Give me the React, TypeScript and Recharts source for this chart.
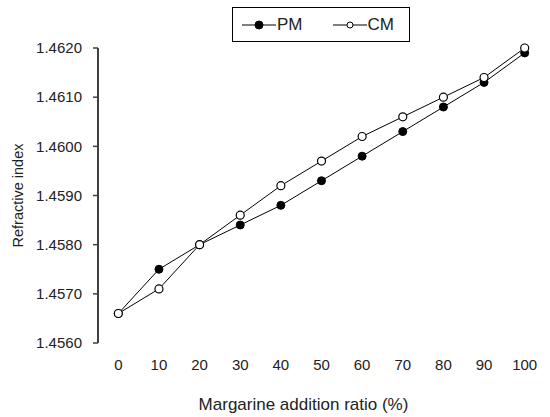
import React from 'react';
import { LineChart, Line, XAxis, YAxis, Legend, Label } from 'recharts';

const ratios = [0, 10, 20, 30, 40, 50, 60, 70, 80, 90, 100];
const pmValues = [1.4566, 1.4575, 1.458, 1.4584, 1.4588, 1.4593, 1.4598, 1.4603, 1.4608, 1.4613, 1.4619];
const cmValues = [1.4566, 1.4571, 1.458, 1.4586, 1.4592, 1.4597, 1.4602, 1.4606, 1.461, 1.4614, 1.462];
const yTicks = [1.456, 1.457, 1.458, 1.459, 1.46, 1.461, 1.462];
const seriesNames = ['PM', 'CM'];
const xTitle = 'Margarine addition ratio (%)';
const yTitle = 'Refractive index';

const FONT = 'Arial, "Liberation Sans", sans-serif';
const AXIS = '#404040';
const TEXT = '#222';

const data = ratios.map((r, i) => ({ ratio: r, PM: pmValues[i], CM: cmValues[i] }));
const step = ratios[1] - ratios[0];
const boundaryTicks = [...ratios.map((r) => r - step / 2), ratios[ratios.length - 1] + step / 2];
const xDomain = [boundaryTicks[0], boundaryTicks[boundaryTicks.length - 1]];

const LegendBox = () => (
  <div
    style={{
      border: '1px solid #000',
      width: 178,
      height: 35,
      display: 'flex',
      alignItems: 'center',
      boxSizing: 'border-box',
      fontFamily: FONT,
      fontSize: 17,
      color: TEXT,
      background: '#fff',
    }}
  >
    {seriesNames.map((name, i) => (
      <div key={name} style={{ display: 'flex', alignItems: 'center', marginLeft: i === 0 ? 9 : 30 }}>
        <svg width={34} height={12} style={{ display: 'block' }}>
          <line x1={0} y1={6} x2={34} y2={6} stroke="#000" strokeWidth={1.2} />
          <circle cx={17} cy={6} r={i === 0 ? 4 : 3} fill={i === 0 ? '#000' : '#fff'} stroke="#000" strokeWidth={1} />
        </svg>
        <span style={{ marginLeft: 1, lineHeight: '17px' }}>{name}</span>
      </div>
    ))}
  </div>
);

export default function App() {
  return (
    <div style={{ position: 'absolute', left: 0, top: 0, width: 550, height: 417, background: '#fff' }}>
      <LineChart width={550} height={417} data={data} margin={{ top: 48, right: 5, left: 0, bottom: 0 }}>
        <XAxis
          xAxisId="ticks"
          type="number"
          dataKey="ratio"
          domain={xDomain}
          ticks={boundaryTicks}
          allowDataOverflow
          height={0}
          tick={() => <g />}
          tickSize={5}
          tickLine={{ stroke: AXIS, strokeWidth: 1.5 }}
          axisLine={{ stroke: AXIS, strokeWidth: 2 }}
        />
        <XAxis
          xAxisId="main"
          type="number"
          dataKey="ratio"
          domain={xDomain}
          ticks={ratios}
          allowDataOverflow
          height={74}
          axisLine={false}
          tickLine={false}
          tickSize={5}
          tickMargin={11}
          tick={{ fill: TEXT, fontSize: 15, fontFamily: FONT }}
        >
          <Label
            value={xTitle}
            position="insideBottom"
            offset={7}
            dx={-18}
            style={{ fill: TEXT, fontSize: 17, fontFamily: FONT }}
          />
        </XAxis>
        <YAxis
          type="number"
          domain={[yTicks[0], yTicks[yTicks.length - 1]]}
          ticks={yTicks}
          width={98}
          tickSize={5}
          tickMargin={11}
          tickFormatter={(v: number) => v.toFixed(4)}
          tick={{ fill: TEXT, fontSize: 15, fontFamily: FONT }}
          tickLine={{ stroke: AXIS, strokeWidth: 1.5 }}
          axisLine={{ stroke: AXIS, strokeWidth: 2 }}
        >
          <Label
            value={yTitle}
            angle={-90}
            position="insideLeft"
            offset={18}
            style={{ fill: TEXT, fontSize: 14.5, fontFamily: FONT, textAnchor: 'middle' }}
          />
        </YAxis>
        <Legend
          layout="horizontal"
          verticalAlign="middle"
          align="center"
          content={() => <LegendBox />}
          wrapperStyle={{ position: 'absolute', top: 7, left: 232, width: 178, height: 35 }}
        />
        <Line
          xAxisId="main"
          type="linear"
          dataKey="PM"
          name="PM"
          stroke="#000"
          strokeWidth={1}
          dot={{ r: 4, fill: '#000', stroke: '#000', strokeWidth: 1 }}
          isAnimationActive={false}
        />
        <Line
          xAxisId="main"
          type="linear"
          dataKey="CM"
          name="CM"
          stroke="#000"
          strokeWidth={1}
          dot={{ r: 4, fill: '#fff', stroke: '#000', strokeWidth: 1.2 }}
          isAnimationActive={false}
        />
      </LineChart>
    </div>
  );
}
